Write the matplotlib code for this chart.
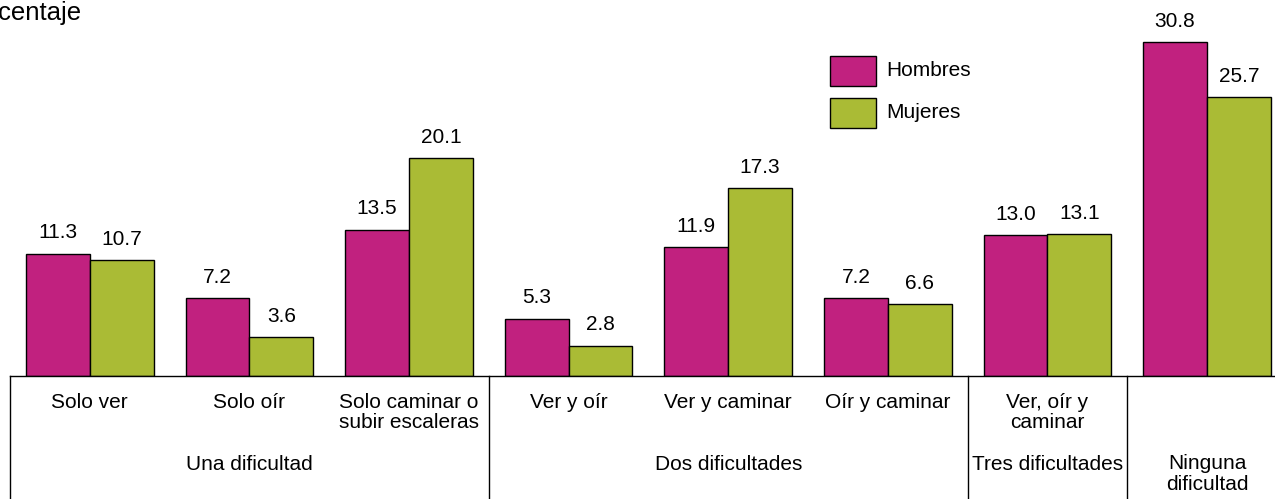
import matplotlib
matplotlib.use("Agg")
import matplotlib.pyplot as plt
from matplotlib.patches import Rectangle

plt.rcParams['font.family'] = ['Liberation Sans', 'DejaVu Sans']

categories = ["Solo ver", "Solo oír", "Solo caminar o\nsubir escaleras",
              "Ver y oír", "Ver y caminar", "Oír y caminar",
              "Ver, oír y\ncaminar", ""]
hombres = [11.3, 7.2, 13.5, 5.3, 11.9, 7.2, 13.0, 30.8]
mujeres = [10.7, 3.6, 20.1, 2.8, 17.3, 6.6, 13.1, 25.7]
groups = ["Una dificultad", "Dos dificultades", "Tres dificultades", "Ninguna\ndificultad"]
group_spans = [(0, 2), (3, 5), (6, 6), (7, 7)]
series_names = ["Hombres", "Mujeres"]

c_h = "#C1217F"
c_m = "#AABB35"

W, H = 1275, 499
fig = plt.figure(figsize=(W / 100, H / 100), dpi=100)

base_px = 376
left_px = 10
slot_px = 159.6
unit_px = 10.84
ax = fig.add_axes([left_px / W, (H - base_px) / H, 1 - left_px / W, base_px / H])
ax.set_xlim(-0.5, -0.5 + (W - left_px) / slot_px)
ax.set_ylim(0, base_px / unit_px)

x = list(range(len(categories)))
bw = 0.4
b1 = ax.bar([i - bw / 2 for i in x], hombres, bw, color=c_h, edgecolor="black", linewidth=1)
b2 = ax.bar([i + bw / 2 for i in x], mujeres, bw, color=c_m, edgecolor="black", linewidth=1)

fs = 15
for bars, vals in ((b1, hombres), (b2, mujeres)):
    for r, v in zip(bars, vals):
        ax.annotate(f"{v:.1f}", (r.get_x() + r.get_width() / 2, v),
                    xytext=(0, 11), textcoords="offset points",
                    ha="center", va="baseline", fontsize=fs)

for s in ("top", "right", "left"):
    ax.spines[s].set_visible(False)
ax.spines["bottom"].set_linewidth(1)
ax.set_xticks([])
ax.set_yticks([])

# category table below the axis
ybot = -(H - base_px) / unit_px
for xv in (-0.5, 2.5, 5.5, 6.5):
    ax.plot([xv, xv], [0, ybot], color="black", lw=1, clip_on=False)

def px_to_y(py):
    return (base_px - py) / unit_px

for i, lab in enumerate(categories):
    if lab:
        ax.text(i, px_to_y(393), lab, ha="center", va="top", fontsize=fs,
                linespacing=1.1)

for (a, b), g in zip(group_spans, groups):
    xc = (a + b) / 2
    if "\n" in g:
        ax.text(xc, px_to_y(454), g, ha="center", va="top", fontsize=fs, linespacing=1.1)
    else:
        ax.text(xc, px_to_y(465), g, ha="center", va="center", fontsize=fs)

# axis title, partly running off the left edge
fig.text(-41 / W, 1 - 20 / H, "Porcentaje", fontsize=18.5, ha="left", va="baseline")

# legend
for k, (name, col) in enumerate(zip(series_names, (c_h, c_m))):
    top = 56 + k * 42
    fig.patches.append(Rectangle((830 / W, 1 - (top + 30) / H), 46 / W, 30 / H,
                                 transform=fig.transFigure, facecolor=col,
                                 edgecolor="black", linewidth=1))
    fig.text(886 / W, 1 - (top + 15) / H, name, fontsize=fs, ha="left", va="center")

fig.savefig("out.png", dpi=100)
